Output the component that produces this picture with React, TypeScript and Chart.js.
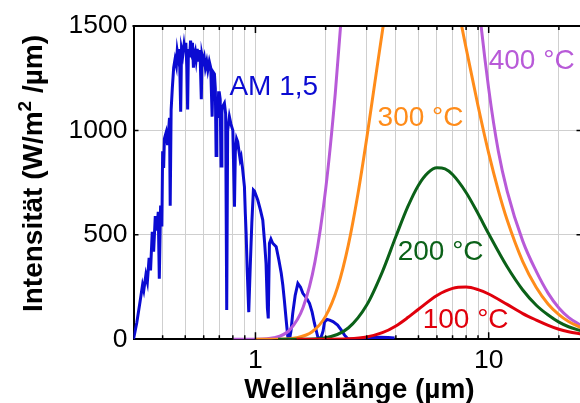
import React, { useEffect, useRef } from 'react';
import { Chart, registerables } from 'chart.js';

Chart.register(...registerables);

const FONT = "'Liberation Sans', Arial, Helvetica, sans-serif";

// Axis ranges and ticks
const X_MIN = 0.3;
const X_MAX = 25;
const Y_MIN = 0;
const Y_MAX = 1500;
const xGridValues = [0.4, 0.5, 0.6, 0.7, 0.8, 0.9, 1, 2, 3, 4, 5, 6, 7, 8, 9, 10, 20];
const xMajorValues = [1, 10];
const xTickLabels = ['1', '10'];
const yTickValues = [0, 500, 1000, 1500];
const yInnerTickValues = [500, 1000];

// Titles
const xTitle = 'Wellenlänge (µm)';
const yTitleParts = ['Intensität (W/m', '2', ' /µm)'];

// AM 1,5 solar spectrum (µm, W/m²/µm)
const am15Wavelength = [
  0.300, 0.310, 0.320, 0.328, 0.332, 0.339, 0.344, 0.350, 0.355, 0.361, 0.366, 0.372, 0.378, 0.383, 0.387,
  0.392, 0.397, 0.400, 0.404, 0.407, 0.414, 0.420, 0.428, 0.431, 0.435, 0.440, 0.446, 0.452, 0.458, 0.462,
  0.468, 0.472, 0.478, 0.482, 0.488, 0.494, 0.498, 0.503, 0.508, 0.512, 0.516, 0.522, 0.527, 0.532, 0.537,
  0.542, 0.546, 0.552, 0.557, 0.563, 0.568, 0.575, 0.580, 0.586, 0.590, 0.597, 0.603, 0.610, 0.618, 0.625,
  0.634, 0.643, 0.652, 0.658, 0.667, 0.673, 0.678, 0.683, 0.689, 0.695, 0.700, 0.706, 0.712, 0.718, 0.728,
  0.736, 0.745, 0.753, 0.760, 0.773, 0.785, 0.800, 0.813, 0.820, 0.830, 0.839, 0.850, 0.860, 0.868, 0.880,
  0.897, 0.905, 0.912, 0.922, 0.936, 0.950, 0.965, 0.980, 0.990, 1.023, 1.050, 1.075, 1.095, 1.110, 1.125,
  1.135, 1.148, 1.165, 1.186, 1.227, 1.260, 1.290, 1.310, 1.330, 1.355, 1.376, 1.400, 1.420, 1.445, 1.480,
  1.520, 1.560, 1.597, 1.650, 1.705, 1.750, 1.790, 1.850, 1.900, 1.950, 1.978, 2.030, 2.080, 2.150, 2.250,
  2.330, 2.410, 2.500, 2.700, 2.900, 3.100, 3.400, 3.700, 3.950,
];
const am15Irradiance = [
  0, 80, 180, 260, 235, 308, 275, 390, 330, 515, 420, 590, 520, 610, 290,
  640, 540, 900, 820, 960, 990, 930, 1060, 640, 1100, 1200, 1300, 1340, 1310, 1380,
  1340, 1390, 1090, 1390, 1360, 1410, 1380, 1420, 1300, 1100, 1390, 1350, 1430, 1390, 1420,
  1300, 1360, 1380, 1340, 1390, 1330, 1385, 1330, 1150, 1360, 1330, 1350, 1300, 1330, 1290,
  1330, 1300, 1066, 1280, 1270, 1200, 880, 1150, 1060, 1180, 1180, 1150, 830, 1100, 1120,
  1130, 1080, 140, 1000, 1066, 1030, 1000, 635, 900, 960, 946, 900, 860, 874, 820,
  730, 600, 507, 330, 130, 350, 560, 715, 710, 667, 620, 571, 460, 364, 150,
  100, 460, 480, 460, 443, 380, 316, 260, 188, 90, 12, 0, 40, 124, 210,
  268, 250, 220, 200, 172, 130, 77, 12, 0, 40, 84, 95, 92, 85, 68,
  45, 20, 0, 0, 3, 8, 10, 9, 6,
];

// Black body curves
const bb100Wavelength = [1.5, 2, 2.5, 3, 3.5, 4, 4.5, 5, 6, 7, 8, 9, 10, 12, 14, 16, 18, 20, 22, 25];
const bb100Value = [0, 0.13, 2.1, 10.9, 31.5, 64, 104, 144, 210, 244, 250, 238, 217, 167, 123, 92, 67, 48, 36, 25];

const bb200Wavelength = [1.25, 1.5, 2, 2.5, 3, 3.5, 4, 4.5, 5, 5.5, 6, 6.5, 7, 8, 9, 10, 12, 14, 16, 18, 20, 22, 25];
const bb200Value = [0, 0.2, 7.9, 54, 164, 323, 492, 635, 738, 798, 821, 816, 789, 703, 602, 505, 347, 236, 163, 116, 82, 60, 40];

const bb300Wavelength = [1, 1.25, 1.5, 1.75, 2, 2.25, 2.5, 2.75, 3, 3.25, 3.5, 3.75, 4, 4.5, 5, 6, 7, 8, 9, 10, 11, 12, 14, 16, 18, 20, 22, 25];
const bb300Value = [0, 0.6, 7.2, 36, 111, 249, 450, 696, 963, 1229, 1474, 1684, 1855, 2073, 2143, 2006, 1710, 1395, 1118, 891, 712, 571, 372, 248, 168, 118, 85, 55];

const bb400Wavelength = [0.8, 1, 1.2, 1.4, 1.6, 1.8, 2, 2.2, 2.4, 2.6, 3, 4, 5, 6, 7, 8, 9, 10, 11, 12, 14, 16, 18, 20, 22, 25];
const bb400Value = [0, 0.5, 7.5, 44, 152, 372, 719, 1180, 1716, 2281, 3340, 4728, 4550, 3786, 2972, 2284, 1640, 1200, 900, 710, 470, 325, 220, 150, 105, 65];

// Colours
const BLUE = '#0b0bd2';
const PURPLE = '#b85ad8';
const ORANGE = '#ff8c1a';
const GREEN = '#0b6118';
const RED = '#e0000c';

// Curve labels (anchored in data coordinates: left edge, baseline)
const labelTexts = ['AM 1,5', '300 °C', '400 °C', '200 °C', '100 °C'];
const labelX = [0.7735, 3.34, 10.0, 4.07, 5.21];
const labelY = [1170, 1021, 1294, 380, 54];
const labelColors = [BLUE, ORANGE, PURPLE, GREEN, RED];

const CANVAS_W = 590;
const CANVAS_H = 403;

const toPoints = (xs: number[], ys: number[]) => xs.map((x, i) => ({ x, y: ys[i] }));

const overlayPlugin = {
  id: 'overlay',
  afterDraw(chart: any) {
    const { ctx, chartArea: a, scales } = chart;
    const xs = scales.x;
    const ys = scales.y;
    ctx.save();

    // top & right border
    ctx.strokeStyle = '#000';
    ctx.lineWidth = 2;
    ctx.beginPath();
    ctx.moveTo(a.left - 1, a.top);
    ctx.lineTo(a.right, a.top);
    ctx.lineTo(a.right, a.bottom);
    ctx.stroke();

    // inside ticks
    ctx.lineWidth = 1.5;
    ctx.beginPath();
    for (const v of xGridValues) {
      const px = xs.getPixelForValue(v);
      const len = xMajorValues.includes(v) ? 7 : 4;
      ctx.moveTo(px, a.bottom);
      ctx.lineTo(px, a.bottom - len);
      ctx.moveTo(px, a.top);
      ctx.lineTo(px, a.top + len);
    }
    for (const v of yInnerTickValues) {
      const py = ys.getPixelForValue(v);
      ctx.moveTo(a.left, py);
      ctx.lineTo(a.left + 5, py);
      ctx.moveTo(a.right, py);
      ctx.lineTo(a.right - 5, py);
    }
    ctx.stroke();

    // curve labels
    ctx.font = `28px ${FONT}`;
    ctx.textAlign = 'left';
    ctx.textBaseline = 'alphabetic';
    labelTexts.forEach((t, i) => {
      ctx.fillStyle = labelColors[i];
      ctx.fillText(t, xs.getPixelForValue(labelX[i]), ys.getPixelForValue(labelY[i]));
    });

    // x title
    ctx.fillStyle = '#000';
    ctx.font = `bold 28px ${FONT}`;
    ctx.textAlign = 'center';
    ctx.fillText(xTitle, (a.left + a.right) / 2 + 2, a.bottom + 59);

    // y title (rotated, with superscript)
    const bigFont = `bold 28px ${FONT}`;
    const supFont = `bold 19px ${FONT}`;
    ctx.font = bigFont;
    const w0 = ctx.measureText(yTitleParts[0]).width;
    const w2 = ctx.measureText(yTitleParts[2]).width;
    ctx.font = supFont;
    const w1 = ctx.measureText(yTitleParts[1]).width;
    const total = w0 + w1 + w2;
    ctx.translate(41.7, a.top + 147.5);
    ctx.rotate(-Math.PI / 2);
    ctx.textAlign = 'left';
    let cx = -total / 2;
    ctx.font = bigFont;
    ctx.fillText(yTitleParts[0], cx, 0);
    cx += w0;
    ctx.font = supFont;
    ctx.fillText(yTitleParts[1], cx, -11);
    cx += w1;
    ctx.font = bigFont;
    ctx.fillText(yTitleParts[2], cx, 0);

    ctx.restore();
  },
};

export default function App() {
  const ref = useRef<HTMLCanvasElement | null>(null);

  useEffect(() => {
    if (!ref.current) return;
    const chart = new Chart(ref.current, {
      type: 'line',
      data: {
        datasets: [
          {
            label: '100 °C',
            data: toPoints(bb100Wavelength, bb100Value),
            borderColor: RED,
            borderWidth: 3,
            pointRadius: 0,
            cubicInterpolationMode: 'monotone',
            fill: false,
          },
          {
            label: '200 °C',
            data: toPoints(bb200Wavelength, bb200Value),
            borderColor: GREEN,
            borderWidth: 3,
            pointRadius: 0,
            cubicInterpolationMode: 'monotone',
            fill: false,
          },
          {
            label: '300 °C',
            data: toPoints(bb300Wavelength, bb300Value),
            borderColor: ORANGE,
            borderWidth: 3,
            pointRadius: 0,
            cubicInterpolationMode: 'monotone',
            fill: false,
          },
          {
            label: '400 °C',
            data: toPoints(bb400Wavelength, bb400Value),
            borderColor: PURPLE,
            borderWidth: 3,
            pointRadius: 0,
            cubicInterpolationMode: 'monotone',
            fill: false,
          },
          {
            label: 'AM 1,5',
            data: toPoints(am15Wavelength, am15Irradiance),
            borderColor: BLUE,
            borderWidth: 3,
            pointRadius: 0,
            tension: 0,
            fill: false,
          },
        ],
      },
      options: {
        animation: false,
        responsive: false,
        maintainAspectRatio: false,
        layout: { padding: { top: 26, right: CANVAS_W - 581.5, left: 0, bottom: 0 } },
        plugins: {
          legend: { display: false },
          tooltip: { enabled: false },
          title: { display: false },
        },
        scales: {
          x: {
            type: 'logarithmic',
            position: 'bottom',
            min: X_MIN,
            max: X_MAX,
            afterFit: (s: any) => {
              s.height = CANVAS_H - 339.3;
            },
            afterBuildTicks: (s: any) => {
              s.ticks = xGridValues.map((v) => ({ value: v, major: xMajorValues.includes(v) }));
            },
            ticks: {
              autoSkip: false,
              maxRotation: 0,
              minRotation: 0,
              padding: 5,
              color: '#000',
              font: { family: FONT, size: 26.5 },
              callback: (v: any) => {
                const idx = xMajorValues.indexOf(Number(v));
                return idx >= 0 ? xTickLabels[idx] : '';
              },
            },
            grid: { color: '#cfcfcf', lineWidth: 1, drawTicks: false },
            border: { display: true, color: '#000', width: 2 },
          },
          y: {
            type: 'linear',
            position: 'left',
            min: Y_MIN,
            max: Y_MAX,
            afterFit: (s: any) => {
              s.width = 133.5;
            },
            afterBuildTicks: (s: any) => {
              s.ticks = yTickValues.map((v) => ({ value: v }));
            },
            ticks: {
              padding: 6,
              color: '#000',
              font: { family: FONT, size: 26.5 },
              callback: (v: any) => String(v),
            },
            grid: {
              color: (c: any) =>
                c.tick && (c.tick.value === Y_MIN || c.tick.value === Y_MAX) ? 'rgba(0,0,0,0)' : '#cfcfcf',
              lineWidth: 1,
              drawTicks: false,
            },
            border: { display: true, color: '#000', width: 2 },
          },
        },
      },
      plugins: [overlayPlugin],
    } as any);
    return () => chart.destroy();
  }, []);

  return (
    <div style={{ position: 'fixed', left: 0, top: 0, width: 580, height: 403, overflow: 'hidden', background: '#fff' }}>
      <canvas ref={ref} width={CANVAS_W} height={CANVAS_H} style={{ display: 'block', width: CANVAS_W, height: CANVAS_H }} />
    </div>
  );
}
